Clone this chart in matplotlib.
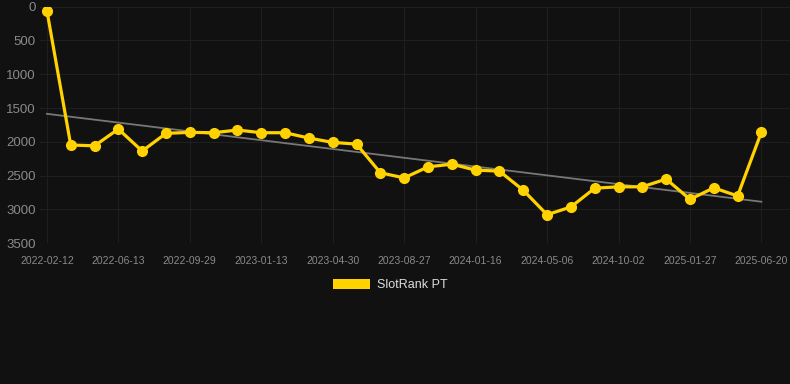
import numpy as np
import matplotlib.pyplot as plt
from matplotlib.patches import Patch

plt.rcParams['font.family'] = ['Liberation Sans', 'DejaVu Sans']

# tick labels (every third point)
tick_labels = ["2022-02-12", "2022-06-13", "2022-09-29", "2023-01-13", "2023-04-30",
               "2023-08-27", "2024-01-16", "2024-05-06", "2024-10-02", "2025-01-27",
               "2025-06-20"]
ranks = [60, 2047, 2058, 1811, 2136, 1874, 1860, 1865, 1825, 1865,
         1865, 1944, 2008, 2033, 2457, 2533, 2370, 2330, 2418, 2433,
         2715, 3077, 2963, 2685, 2665, 2665, 2550, 2850, 2680, 2800,
         1855]
SERIES = "SlotRank PT"

BG = "#111111"
YELLOW = "#FFD200"
GRID = "#1f1f1f"
TEXT = "#8a8a8a"

x = np.arange(len(ranks))
fit = np.polyfit(x, ranks, 1)

fig = plt.figure(figsize=(7.9, 3.84), dpi=100, facecolor=BG)
ax = fig.add_axes([40 / 790, 1 - 243.3 / 384, 750 / 790, (243.3 - 6.6) / 384])
ax.set_facecolor(BG)

ax.plot(x, np.polyval(fit, x), color="#777777", lw=1.3, zorder=2)
ax.plot(x, ranks, color=YELLOW, lw=2.3, marker="o", markersize=7, zorder=3)

ax.set_ylim(3500, 0)
ax.set_xlim(-0.29, 31.2)
ax.set_yticks(range(0, 3501, 500))
ax.set_xticks(x[::3])
ax.set_xticklabels(tick_labels)
ax.grid(True, color=GRID, lw=0.8)
ax.set_axisbelow(True)
for s in ax.spines.values():
    s.set_visible(False)
ax.tick_params(axis="y", length=0, pad=3, colors=TEXT, labelsize=9.5)
ax.tick_params(axis="x", length=0, pad=9, colors=TEXT, labelsize=7.5)

fig.legend(handles=[Patch(facecolor=YELLOW, label=SERIES)], loc="center",
           bbox_to_anchor=(390 / 790, 1 - 285 / 384), frameon=False,
           handlelength=3.0, handleheight=0.9, handletextpad=0.5,
           labelcolor="#dddddd", fontsize=9)

fig.savefig("out.png", dpi=100, facecolor=BG)
